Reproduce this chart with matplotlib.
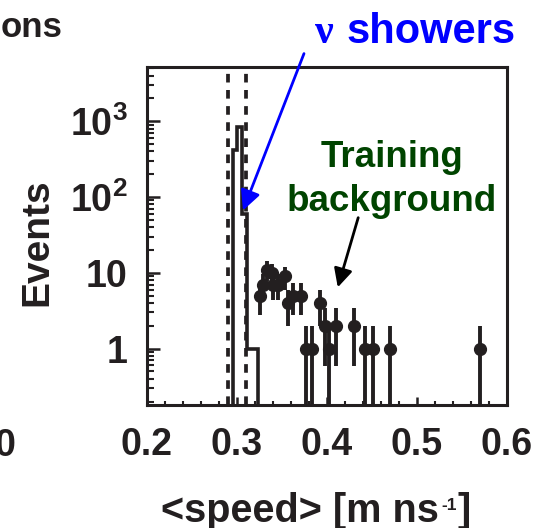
import numpy as np
import matplotlib.pyplot as plt
from matplotlib.ticker import MultipleLocator, LogLocator, NullFormatter

plt.rcParams['font.family'] = ['Liberation Sans', 'DejaVu Sans']
plt.rcParams['font.weight'] = 'bold'
plt.rcParams['mathtext.fontset'] = 'custom'
plt.rcParams['mathtext.rm'] = 'Liberation Sans:bold'
plt.rcParams['mathtext.bf'] = 'Liberation Sans:bold'
plt.rcParams['mathtext.it'] = 'Liberation Sans:bold'
plt.rcParams['mathtext.default'] = 'bf'

# simulated nu showers, step histogram
shower_edges = [0.295, 0.300, 0.306, 0.311, 0.3235]
shower_counts = [420, 850, 60, 1]

# speed selection window
cut_low = 0.29
cut_high = 0.31

# training background events
bkg_speed = [0.3256, 0.329, 0.333, 0.3385, 0.340, 0.345, 0.353, 0.357, 0.362,
             0.371, 0.377, 0.383, 0.392, 0.398, 0.402, 0.410, 0.430, 0.442,
             0.451, 0.470, 0.570]
bkg_events = [5, 7, 11, 10, 7, 7, 9, 4, 5,
              5, 1, 1, 4, 2, 1, 2, 2, 1,
              1, 1, 1]

x_ticks = [0.2, 0.3, 0.4, 0.5, 0.6]
y_ticks = [1, 10, 100, 1000]
y_labels = ['1', '10', r'$10^{2}$', r'$10^{3}$']

ink = '#231f20'

W, H = 537, 528


def px(x, y):
    # pixel position (from top-left) to figure fraction
    return x / W, 1 - y / H


fig = plt.figure(figsize=(W / 100, H / 100), dpi=100)
ax = fig.add_axes([147 / W, 1 - 405 / H, 360 / W, 338 / H])
ax.set_yscale('log')
ax.set_xlim(0.2, 0.6)
ax.set_ylim(0.18, 5200)

ax.stairs(shower_counts, shower_edges, baseline=0.01, color=ink, lw=2.6)
for xc in (cut_low, cut_high):
    ax.axvline(xc, color=ink, lw=2.7, ls=(0, (2.3, 2.0)))

n = np.array(bkg_events, dtype=float)
err_hi = np.sqrt(n)
err_lo = np.minimum(np.sqrt(n), n - 1e-3)
ax.errorbar(bkg_speed, n, yerr=[err_lo, err_hi], fmt='o', ms=8.5,
            color=ink, elinewidth=2.8, capsize=0, zorder=3)

for s in ax.spines.values():
    s.set_linewidth(2.2)
    s.set_color(ink)

ax.set_xticks(x_ticks)
ax.set_xticklabels([f'{v:.1f}' for v in x_ticks])
ax.xaxis.set_minor_locator(MultipleLocator(0.02))
ax.set_yticks(y_ticks)
ax.set_yticklabels(y_labels)
ax.yaxis.set_minor_locator(LogLocator(base=10, subs=np.arange(2, 10)))
ax.yaxis.set_minor_formatter(NullFormatter())
ax.tick_params(which='both', direction='in', colors=ink, labelsize=27,
               top=False, right=False)
ax.tick_params(axis='x', which='major', length=6, width=1.8, pad=16)
ax.tick_params(axis='x', which='minor', length=3, width=1.5)
ax.tick_params(axis='y', which='major', length=9, width=1.8, pad=14)
ax.tick_params(axis='y', which='minor', length=5, width=1.5)

fig.text(*px(37, 242), 'Events', rotation=90, ha='center',
         va='center', fontsize=28, color=ink)

# x-axis title, with a plain hyphen in the exponent
fig.text(*px(161, 522), '<speed> [m ns', ha='left', va='baseline',
         fontsize=28.5, color=ink)
fig.text(*px(441, 510), '-1', ha='left', va='baseline',
         fontsize=12.5, color=ink)
fig.text(*px(458, 522), ']', ha='left', va='baseline',
         fontsize=28.5, color=ink)

# pieces of the neighbouring panel
fig.text(*px(63, 37), 'ons', ha='right', va='baseline',
         fontsize=25, color=ink)
fig.text(*px(15, 456), '0', ha='right', va='baseline',
         fontsize=27, color=ink)

# annotations
fig.text(*px(334, 43), 'ν', ha='right', va='baseline', fontsize=30,
         color='#0000ff', family='Liberation Serif', weight='bold')
fig.text(*px(346, 43), 'showers', ha='left', va='baseline',
         fontsize=30, color='#0000ff')
ax.annotate('', xy=px(242, 213), xytext=px(305, 51),
            xycoords='figure fraction', textcoords='figure fraction',
            arrowprops=dict(arrowstyle='-|>', color='#0000ff', lw=2,
                            mutation_scale=30))

green = '#004400'
fig.text(*px(392, 167), 'Training', ha='center', va='baseline',
         fontsize=26.5, color=green)
fig.text(*px(392, 211), 'background', ha='center', va='baseline',
         fontsize=26.5, color=green)
ax.annotate('', xy=px(337, 290), xytext=px(359, 215),
            xycoords='figure fraction', textcoords='figure fraction',
            arrowprops=dict(arrowstyle='-|>', color='black', lw=2,
                            mutation_scale=28))

fig.savefig('out.png', dpi=100)
